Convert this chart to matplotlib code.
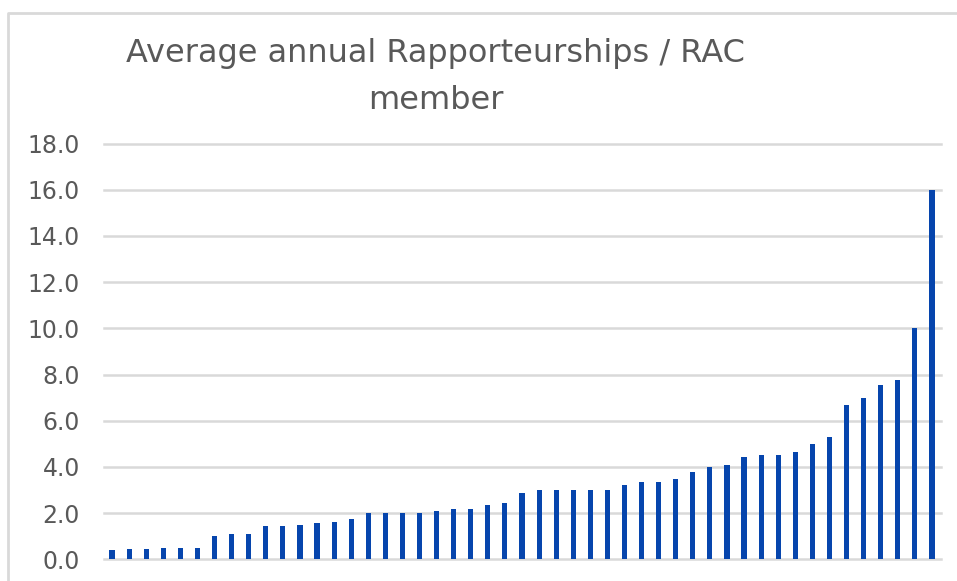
import matplotlib
matplotlib.use("Agg")
import matplotlib.pyplot as plt
from matplotlib.lines import Line2D

values = [0.40, 0.45, 0.45, 0.50, 0.50, 0.50, 1.00, 1.10, 1.10, 1.43,
          1.45, 1.50, 1.56, 1.63, 1.75, 2.00, 2.00, 2.00, 2.00, 2.10,
          2.18, 2.18, 2.35, 2.42, 2.85, 3.00, 3.00, 3.00, 3.00, 3.00,
          3.20, 3.33, 3.33, 3.48, 3.80, 4.00, 4.10, 4.44, 4.50, 4.50,
          4.65, 5.00, 5.28, 6.67, 7.00, 7.56, 7.75, 10.00, 16.00]
categories = list(range(1, len(values) + 1))
yticks = [0, 2, 4, 6, 8, 10, 12, 14, 16, 18]
ytick_labels = [f"{v:.1f}" for v in yticks]
title_lines = ["Average annual Rapporteurships / RAC", "member"]

plt.rcParams['font.family'] = ['DejaVu Sans']
fig = plt.figure(figsize=(9.57, 5.81), dpi=100)
ax = fig.add_axes([103.5 / 957, (581 - 559.3) / 581, (940.5 - 103.5) / 957, (559.3 - 143.5) / 581])

x = list(range(len(values)))
ax.bar(x, values, width=0.3, color='#0645AD', zorder=3)
ax.set_xlim(-0.5, len(values) - 0.5)
ax.set_ylim(0, 18)
ax.set_yticks(yticks)
ax.set_yticklabels(ytick_labels)
ax.set_xticks([])
ax.tick_params(axis='y', length=0, pad=17, labelsize=17, labelcolor='#595959')
ax.grid(axis='y', color='#D9D9D9', linewidth=1.8, zorder=0)
for gl in ax.get_ygridlines():
    gl.set_clip_on(False)
for s in ax.spines.values():
    s.set_visible(False)

# chart border (top and left)
fig.add_artist(Line2D([8 / 957, 8 / 957, 1.0], [0.0, 1 - 12.7 / 581, 1 - 12.7 / 581],
                      transform=fig.transFigure, color='#D9D9D9', linewidth=2))

fig.text(435.5 / 957, 1 - 62.3 / 581, title_lines[0], ha='center', va='baseline',
         fontsize=23, color='#595959')
fig.text(435.5 / 957, 1 - 109.3 / 581, title_lines[1], ha='center', va='baseline',
         fontsize=23, color='#595959')

fig.savefig("out.png", dpi=100)
